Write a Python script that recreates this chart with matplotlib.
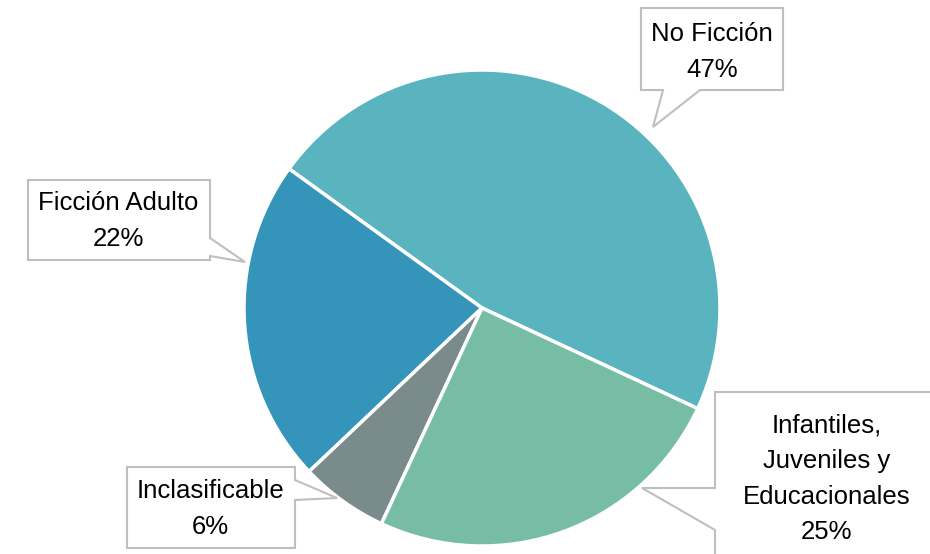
import matplotlib
matplotlib.use("Agg")
from matplotlib import pyplot as plt
from matplotlib.patches import Polygon

# datos del gráfico
categorias = ["No Ficción", "Ficción Adulto", "Inclasificable",
              "Infantiles,\nJuveniles y\nEducacionales"]
valores = [47, 22, 6, 25]
colores = ["#59B4BF", "#3594BA", "#798B8B", "#77BDA5"]

W, H = 930, 554
CX, CY, R = 482, 308, 238  # centro y radio del pastel en pixeles


def px(x, y):
    # pixel de la imagen -> coordenadas del eje (radio del pastel = 1)
    return ((x - CX) / R, (CY - y) / R)


fig = plt.figure(figsize=(W / 100, H / 100), dpi=100)
ax = fig.add_axes([0, 0, 1, 1])

ax.pie(valores, colors=colores, startangle=-25, counterclock=True,
       radius=1, center=(0, 0),
       wedgeprops=dict(edgecolor="white", linewidth=2.5))

# cajas de las etiquetas: contorno con puntero (pixeles)
cajas = [
    [(641, 8), (783, 8), (783, 90), (700, 90), (653, 127), (663, 90), (641, 90)],
    [(28, 180), (210, 180), (210, 238), (245, 262), (210, 256), (210, 260), (28, 260)],
    [(127, 467), (295, 467), (295, 480), (337, 498), (295, 500), (295, 548), (127, 548)],
    [(715, 392), (940, 392), (940, 570), (715, 570), (715, 530), (642, 488), (715, 488)],
]
centros = [(712, 52), (118, 221), (210, 509), (827, 479)]

for i in range(len(categorias)):
    pts = [px(x, y) for x, y in cajas[i]]
    ax.add_patch(Polygon(pts, closed=True, facecolor="white",
                         edgecolor="#BFBFBF", linewidth=1.5, zorder=3))
    tx, ty = px(*centros[i])
    ax.text(tx, ty, f"{categorias[i]}\n{valores[i]}%", ha="center", va="center",
            fontsize=18.5, family="Liberation Sans", linespacing=1.6,
            color="black", zorder=4)

ax.set_xlim(-CX / R, (W - CX) / R)
ax.set_ylim(-(H - CY) / R, CY / R)
ax.axis("off")

fig.savefig("out.png", dpi=100, facecolor="white")
